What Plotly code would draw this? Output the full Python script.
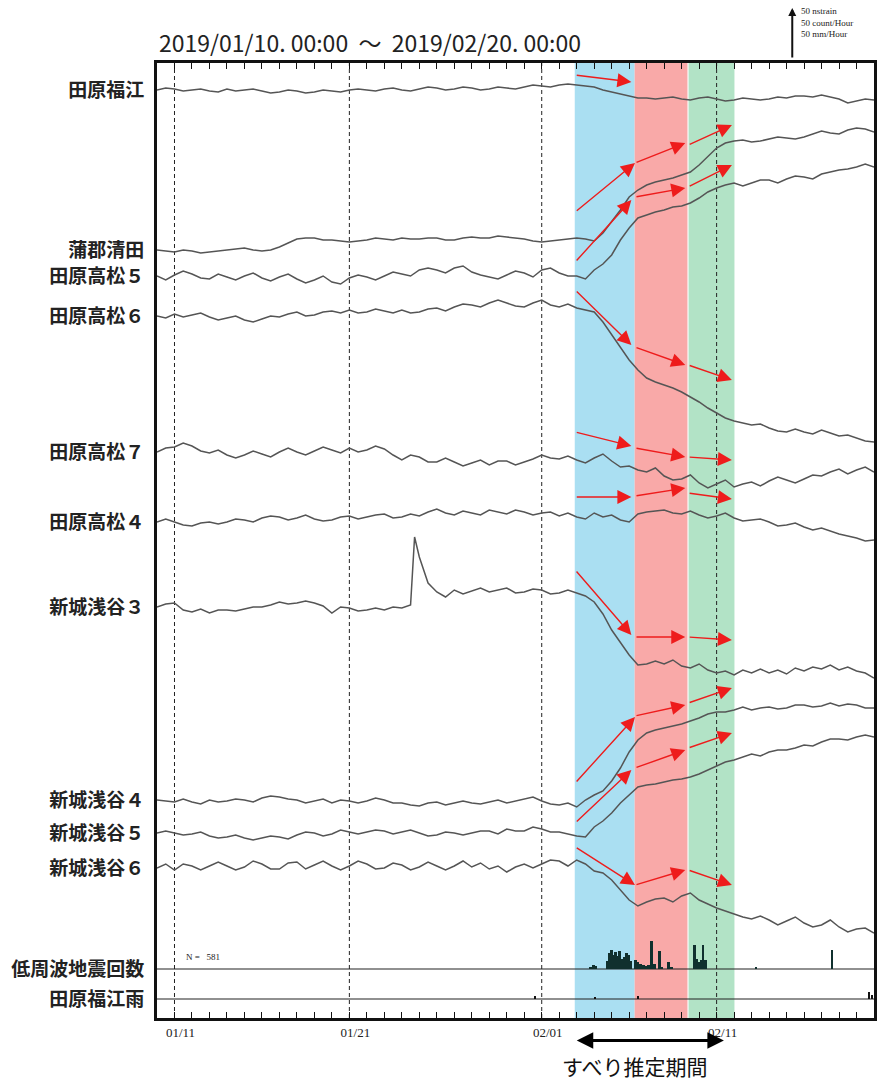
import pandas as pd
import plotly.graph_objects as go

# ---------------- data ----------------
t_start = "2019-01-10 00:00"
t_end = "2019-02-20 00:00"
times = pd.date_range(t_start, periods=83, freq="12h")   # half-day samples

station_names = ["田原福江", "蒲郡清田", "田原高松５", "田原高松６", "田原高松７",
                 "田原高松４", "新城浅谷３", "新城浅谷４", "新城浅谷５", "新城浅谷６"]
station_offsets = [928, 768, 742, 702, 566, 496, 411, 218, 185, 150]

# strain change (nstrain, positive up) relative to start
tahara_fukue = [0,2,1,-1,0,1,-1,-2,1,-1, 0,1,-1,-3,-2,0,-1,-3,-2,0, -1,-2,0,1,0,-1,1,2,0,-1,
                1,3,2,0,1,3,2,0,1,3, 2,1,3,5,4,3,5,6,5,4, 3,0,-2,-4,-6,-8,-8,-9,-8,-7,
                -9,-10,-8,-7,-9,-11,-10,-8,-9,-10, -9,-7,-8,-6,-6,-7,-5,-7,-9,-13, -11,-9,-10]
gamagori_kiyota = [0,-1,-2,0,-1,-3,-2,-1,0,1, 2,0,-1,0,3,7,11,12,12,10, 10,9,8,9,10,12,11,10,12,11,
                   11,12,12,10,10,12,13,12,12,14, 13,12,11,9,8,9,10,11,12,11, 9,17,28,40,53,60,65,68,70,72,
                   75,78,85,93,102,107,109,110,108,109, 111,113,112,111,113,116,119,117,116,120, 122,121,118]
takamatsu5 = [0,-4,1,5,2,-2,-3,2,-1,-4, 0,3,-2,-5,-1,2,-3,-7,-4,0, -6,-8,-2,1,-1,-4,0,4,2,0,
              6,8,6,3,8,10,4,1,-1,-3, 1,5,3,-1,6,8,3,0,0,-3, 6,12,21,36,48,58,61,64,66,69,
              70,73,78,84,88,91,93,90,93,96, 96,93,97,100,99,97,102,104,106,107, 109,112,109]
takamatsu6 = [0,-2,2,-1,1,3,-1,-4,-2,0, -4,-6,-3,0,-1,2,4,0,1,4, 5,3,6,3,4,7,5,3,6,3,
              4,7,8,5,9,12,11,9,13,16, 13,10,9,13,16,11,9,12,8,6, 4,-6,-19,-32,-44,-54,-62,-66,-69,-72,
              -76,-81,-86,-92,-97,-102,-105,-107,-109,-108, -112,-115,-116,-113,-116,-118,-114,-117,-120,-119,
              -122,-125,-126]
takamatsu7 = [0,4,5,9,6,1,-1,2,-3,-6, -3,1,-2,-5,0,4,0,-3,1,5, 2,-1,4,0,2,6,3,-3,-8,-3,
              -5,-10,-10,-6,-10,-14,-11,-8,-13,-9, -9,-13,-10,-7,-3,-6,-7,-4,-8,-11, -6,-2,-9,-15,-14,-18,-20,-16,-24,-28,
              -27,-23,-31,-36,-32,-28,-35,-32,-30,-34, -29,-25,-28,-31,-27,-23,-24,-20,-17,-22, -18,-15,-20]
takamatsu4 = [0,3,0,-3,-4,-1,0,-2,0,3, 2,0,4,6,5,2,4,7,3,1, 2,5,6,3,5,7,8,4,5,8,
              6,10,13,9,7,11,9,7,12,10, 8,12,10,7,9,10,6,9,5,3, 9,5,7,2,0,8,10,11,12,9,
              8,11,7,4,6,9,4,1,2,3, 0,-4,-3,-1,-5,-8,-6,-9,-12,-14, -16,-19,-18]
asaya3 = [0,3,4,-3,-5,-2,-6,-3,-3,-4, -2,0,0,2,5,3,4,6,4,1, -6,0,-1,-4,-3,-1,-3,0,-1,2,
          50,24,15,10,17,13,16,19,15,17, 19,14,15,18,17,13,14,17,14,11, 5,-7,-23,-35,-48,-58,-57,-54,-57,-53,
          -59,-61,-57,-63,-66,-64,-68,-63,-66,-62, -66,-63,-67,-61,-64,-60,-62,-58,-63,-60, -64,-66,-71]
asaya3_spike_time = "2019-01-24 17:30"
asaya3_spike_value = 70
asaya4 = [0,-1,-2,1,-2,-4,0,-2,-1,1, 0,-2,2,4,3,1,0,-3,-1,1, -3,0,-1,-3,-1,2,0,-3,-3,-5,
          -6,-3,-2,-5,-3,-1,-3,-4,-2,0, -3,-1,1,3,-1,-4,-5,-3,-7,0, 5,9,19,32,48,60,67,70,72,74,
          76,79,82,86,88,88,90,93,90,92, 93,91,92,95,95,93,94,97,94,96, 95,92,92]
asaya5 = [0,2,0,-2,-1,1,-3,-5,-4,-2, -5,-7,-5,-3,-4,-6,-2,1,0,-3, -1,3,1,-1,1,3,2,-1,1,3,
          0,-3,-2,1,0,-2,0,2,2,-1, 4,2,2,6,4,1,1,-1,-3,-4, 6,12,20,30,38,46,48,49,51,53,
          54,56,59,63,67,71,73,76,79,77, 81,83,83,85,88,87,91,94,94,93, 96,98,96]
asaya6 = [0,4,-2,4,2,-2,2,6,2,-2, 1,7,4,-1,-1,5,6,-1,3,7, 2,-2,2,7,4,-1,0,5,3,-2,
          1,6,2,-2,2,7,1,5,-1,2, -4,1,4,0,4,8,7,2,8,4, -3,-5,-12,-22,-32,-38,-34,-31,-30,-34,
          -28,-25,-32,-36,-40,-43,-46,-49,-51,-48, -52,-57,-53,-49,-55,-59,-57,-52,-59,-64, -61,-60,-65]

# low-frequency earthquake counts (count/hour)
lfe_label = "低周波地震回数"
lfe_offset = 49
lfe_total = 581
lfe_times = ["2019-02-03 19:30", "2019-02-03 23:30", "2019-02-04 02:00", "2019-02-04 18:45",
             "2019-02-04 21:30", "2019-02-05 00:15", "2019-02-05 03:00", "2019-02-05 05:45",
             "2019-02-05 08:30", "2019-02-05 11:15", "2019-02-05 14:00", "2019-02-05 18:00",
             "2019-02-05 20:50", "2019-02-05 23:30", "2019-02-06 02:15",
             "2019-02-06 09:00", "2019-02-06 11:45", "2019-02-06 15:50", "2019-02-06 20:00",
             "2019-02-07 00:15", "2019-02-07 03:00", "2019-02-07 07:00", "2019-02-07 11:00",
             "2019-02-07 18:00", "2019-02-07 20:40", "2019-02-08 06:15", "2019-02-08 10:20",
             "2019-02-09 17:45", "2019-02-09 20:30", "2019-02-10 00:30", "2019-02-10 03:20",
             "2019-02-10 06:00", "2019-02-10 09:00", "2019-02-13 06:30", "2019-02-17 14:30"]
lfe_counts = [2, 4, 3, 8, 16, 19, 14, 17, 13, 18, 10, 12, 16, 14, 8,
              9, 7, 5, 4, 3, 4, 28, 5, 18, 2, 7, 2,
              24, 10, 7, 9, 24, 9, 2, 19]

# rain (mm/hour)
rain_label = "田原福江雨"
rain_offset = 19
rain_times = ["2019-01-31 15:00", "2019-02-04 01:00", "2019-02-06 11:45", "2019-02-19 17:00", "2019-02-19 21:00"]
rain_mm = [3, 2, 3, 7, 4]

# slip periods
band_blue = ("2019-02-02 21:20", "2019-02-06 07:30")
band_red = ("2019-02-06 07:30", "2019-02-09 08:00")
band_green = ("2019-02-09 09:30", "2019-02-12 00:30")
slip_period = ("2019-02-02 22:00", "2019-02-11 10:00")

# dashed reference dates / tick labels
tick_dates = ["2019-01-11", "2019-01-21", "2019-02-01", "2019-02-11"]
tick_text = ["01/11", "01/21", "02/01", "02/11"]

# red trend arrows: (station index, start time, start value, end time, end value)
A0, A1, A2, A3, A4, A5 = ("2019-02-02 22:00", "2019-02-06 03:00", "2019-02-06 08:00",
                          "2019-02-09 05:00", "2019-02-09 09:00", "2019-02-11 21:00")
trend_arrows = [
    (0, A0, 15, A1, 8),
    (1, A0, 38, A2, 87), (1, A2, 87, A3, 107), (1, A4, 105, A5, 125),
    (2, A0, 14, A1, 76), (2, A2, 79, A3, 88), (2, A4, 89, A5, 111),
    (3, A0, 26, A1, -29), (3, A2, -31, A3, -49), (3, A4, -49, A5, -64),
    (4, A0, 20, A1, 6), (4, A2, 4, A3, -5), (4, A4, -5, A5, -8),
    (5, A0, 25, A1, 25), (5, A2, 26, A3, 34), (5, A4, 29, A5, 23),
    (6, A0, 37, A1, -28), (6, A2, -30, A3, -30), (6, A4, -30, A5, -33),
    (7, A0, 17, A2, 83), (7, A2, 84, A3, 95), (7, A4, 97, A5, 112),
    (8, A0, 10, A1, 63), (8, A2, 65, A3, 83), (8, A4, 85, A5, 100),
    (9, A0, 21, A2, -17), (9, A2, -17, A3, -2), (9, A4, -2, A5, -17),
]

series = [tahara_fukue, gamagori_kiyota, takamatsu5, takamatsu6, takamatsu7,
          takamatsu4, asaya3, asaya4, asaya5, asaya6]

# ---------------- figure ----------------
fig = go.Figure()
LINE = "#555555"

for i, (name, vals) in enumerate(zip(station_names, series)):
    xs = list(times)
    ys = list(vals)
    if i == 6:
        pos = 30
        xs = xs[:pos] + [pd.Timestamp(asaya3_spike_time)] + xs[pos:]
        ys = ys[:pos] + [asaya3_spike_value] + ys[pos:]
    fig.add_trace(go.Scatter(x=xs, y=[station_offsets[i] + v for v in ys], mode="lines",
                             line=dict(color=LINE, width=1.5), name=name, showlegend=False))

fig.add_trace(go.Bar(x=pd.to_datetime(lfe_times), y=lfe_counts, base=lfe_offset, width=2.6 * 3600 * 1000,
                     marker=dict(color="#10302e", line=dict(width=0)), showlegend=False))
fig.add_trace(go.Bar(x=pd.to_datetime(rain_times), y=rain_mm, base=rain_offset, width=3 * 3600 * 1000,
                     marker=dict(color="#111", line=dict(width=0)), showlegend=False))

shapes = []
for (b0, b1), col in [(band_blue, "#aadff2"), (band_red, "#f9a9a8"), (band_green, "#b2e3c6")]:
    shapes.append(dict(type="rect", xref="x", yref="paper", x0=b0, x1=b1, y0=0, y1=1,
                       fillcolor=col, line=dict(width=0), layer="below"))
for d in tick_dates:
    shapes.append(dict(type="line", xref="x", yref="paper", x0=d, x1=d, y0=0, y1=1,
                       line=dict(color="#222", width=1, dash="4px,3px"), layer="below"))
for off in (lfe_offset, rain_offset):
    shapes.append(dict(type="line", xref="paper", yref="y", x0=0, x1=1, y0=off, y1=off,
                       line=dict(color="#222", width=1.2), layer="below"))

annotations = []
for (si, t0, v0, t1, v1) in trend_arrows:
    annotations.append(dict(xref="x", yref="y", axref="x", ayref="y",
                            x=t1, y=station_offsets[si] + v1, ax=t0, ay=station_offsets[si] + v0,
                            text="", showarrow=True, arrowhead=2, arrowsize=2.0, arrowwidth=1.4,
                            arrowcolor="#ee1c1c", standoff=0, startstandoff=0))

# title
annotations.append(dict(xref="paper", yref="paper", x=0.0, y=1.022, xanchor="left", yanchor="middle",
                        text="2019/01/10. 00:00  〜  2019/02/20. 00:00", showarrow=False,
                        font=dict(family="Noto Sans CJK JP", size=23, color="#222")))
# scale arrow
annotations.append(dict(xref="paper", yref="paper", x=0.886, y=1.0576, ax=0, ay=51, axref="pixel", ayref="pixel",
                        text="", showarrow=True, arrowhead=2, arrowsize=0.8, arrowwidth=2, arrowcolor="#111"))
annotations.append(dict(xref="paper", yref="paper", x=0.895, y=1.062, xanchor="left", yanchor="top",
                        text="50 nstrain<br>50 count/Hour<br>50 mm/Hour", showarrow=False, align="left",
                        font=dict(family="Liberation Serif", size=9, color="#222")))
# N=
annotations.append(dict(xref="paper", yref="y", x=0.038, y=lfe_offset + 12, xanchor="left", yanchor="middle",
                        text=f"N =   {lfe_total}", showarrow=False,
                        font=dict(family="Liberation Serif", size=9, color="#222")))
# slip period arrow + label
annotations.append(dict(xref="x", yref="paper", x=slip_period[1], y=-0.0235, axref="x", ayref="pixel",
                        ax=slip_period[0], ay=0, text="", showarrow=True, arrowhead=2, arrowside="end+start",
                        arrowsize=1.1, arrowwidth=3, arrowcolor="#000", standoff=0, startstandoff=0))
annotations.append(dict(xref="paper", yref="paper", x=0.667, y=-0.050, xanchor="center", yanchor="middle",
                        text="すべり推定期間", showarrow=False,
                        font=dict(family="Noto Sans CJK JP", size=21, color="#111")))

fig.update_layout(
    width=877, height=1085,
    margin=dict(l=157, r=0, t=63, b=67),
    plot_bgcolor="white", paper_bgcolor="white",
    shapes=shapes, annotations=annotations, bargap=0, barmode="overlay",
    showlegend=False,
)
fig.update_xaxes(type="date", range=[t_start, t_end], tickvals=tick_dates, ticktext=tick_text,
                 ticks="inside", ticklen=6, tickcolor="#111", tickwidth=1,
                 minor=dict(dtick=86400000, tick0=t_start, ticks="inside", ticklen=6, tickcolor="#111"),
                 showline=True, linewidth=3, linecolor="#111", mirror="allticks", showgrid=False,
                 tickfont=dict(family="Liberation Serif", size=13, color="#222"), zeroline=False,
                 ticklabelshift=6)
fig.update_yaxes(range=[0, 955], showline=True, linewidth=3, linecolor="#111", mirror=True,
                 showgrid=False, zeroline=False, ticks="",
                 tickvals=station_offsets + [lfe_offset, rain_offset],
                 ticktext=station_names + [lfe_label, rain_label],
                 tickfont=dict(family="Noto Sans CJK JP", size=19, color="#222", weight="bold"),
                 ticklabelstandoff=6)

fig.write_html("out.html", config={"displayModeBar": False},
               post_script="document.body.style.margin='0px';")
